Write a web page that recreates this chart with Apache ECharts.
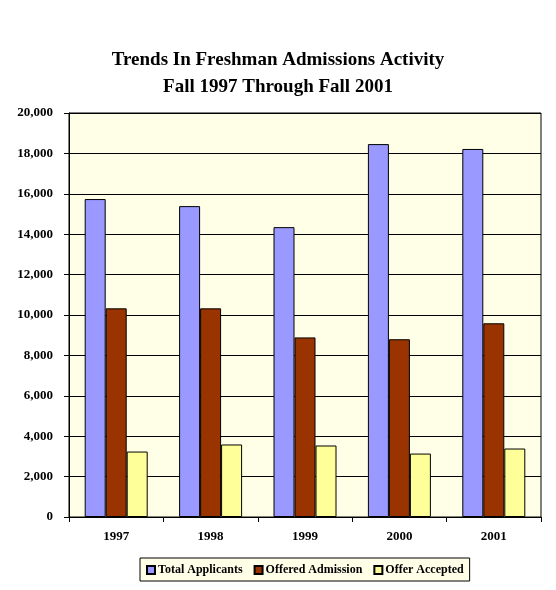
<!DOCTYPE html>
<html>
<head>
<meta charset="utf-8">
<script src="https://cdn.jsdelivr.net/npm/echarts@6/dist/echarts.min.js"></script>
<style>
html,body{margin:0;padding:0;background:#fff;}
#c{width:556px;height:590px;}
</style>
</head>
<body>
<div id="c"></div>
<script>
var years = ['1997','1998','1999','2000','2001'];
var totalApplicants = [15740, 15390, 14350, 18460, 18220];
var offeredAdmission = [10330, 10330, 8890, 8800, 9590];
var offerAccepted = [3240, 3590, 3540, 3140, 3390];
var seriesNames = ['Total Applicants','Offered Admission','Offer Accepted'];
var titleLines = ['Trends In Freshman Admissions Activity','Fall 1997 Through Fall 2001'];

var serif = '"Liberation Serif","Times New Roman",serif';
var chart = echarts.init(document.getElementById('c'), null, {renderer:'canvas'});
function bar(name, data, color){
  return {
    name: name, type: 'bar', data: data,
    barWidth: 21, barGap: '0%',
    itemStyle: {color: color, borderColor: '#000', borderWidth: 1},
    emphasis: {disabled: true}
  };
}
chart.setOption({
  animation: false,
  backgroundColor: '#fff',
  title: {
    text: titleLines.join('\n'),
    left: 'center', top: 42,
    textStyle: {fontFamily: serif, fontWeight: 'bold', fontSize: 19, color: '#000', lineHeight: 27}
  },
  legend: {
    data: seriesNames,
    left: 140, top: 558,
    width: 330,
    padding: [6, 6, 5, 6],
    itemWidth: 8, itemHeight: 8, itemGap: 11,
    icon: 'rect',
    borderColor: '#000', borderWidth: 1,
    backgroundColor: '#FFFFE8',
    textStyle: {fontFamily: serif, fontWeight: 'bold', fontSize: 12, color: '#000', padding: [0,0,0,-2]}
  },
  grid: {
    left: 69, right: 15, top: 113, bottom: 73,
    show: true, borderColor: '#000', borderWidth: 1,
    backgroundColor: '#FFFFE8',
    containLabel: false
  },
  xAxis: {
    type: 'category', data: years,
    axisLine: {lineStyle: {color: '#000', width: 1}},
    axisTick: {show: true, length: 5, lineStyle: {color: '#000'}},
    axisLabel: {fontFamily: serif, fontWeight: 'bold', fontSize: 13, color: '#000', margin: 13}
  },
  yAxis: {
    type: 'value', min: 0, max: 20000, interval: 2000,
    axisLine: {show: true, lineStyle: {color: '#000', width: 1}},
    axisTick: {show: true, length: 5, lineStyle: {color: '#000'}},
    splitLine: {lineStyle: {color: '#000', width: 1}},
    axisLabel: {
      fontFamily: serif, fontWeight: 'bold', fontSize: 13, color: '#000', margin: 16,
      formatter: function(v){ return v.toLocaleString('en-US'); }
    }
  },
  series: [
    bar(seriesNames[0], totalApplicants, '#9999FF'),
    bar(seriesNames[1], offeredAdmission, '#993300'),
    bar(seriesNames[2], offerAccepted, '#FFFF99')
  ]
});
</script>
</body>
</html>
